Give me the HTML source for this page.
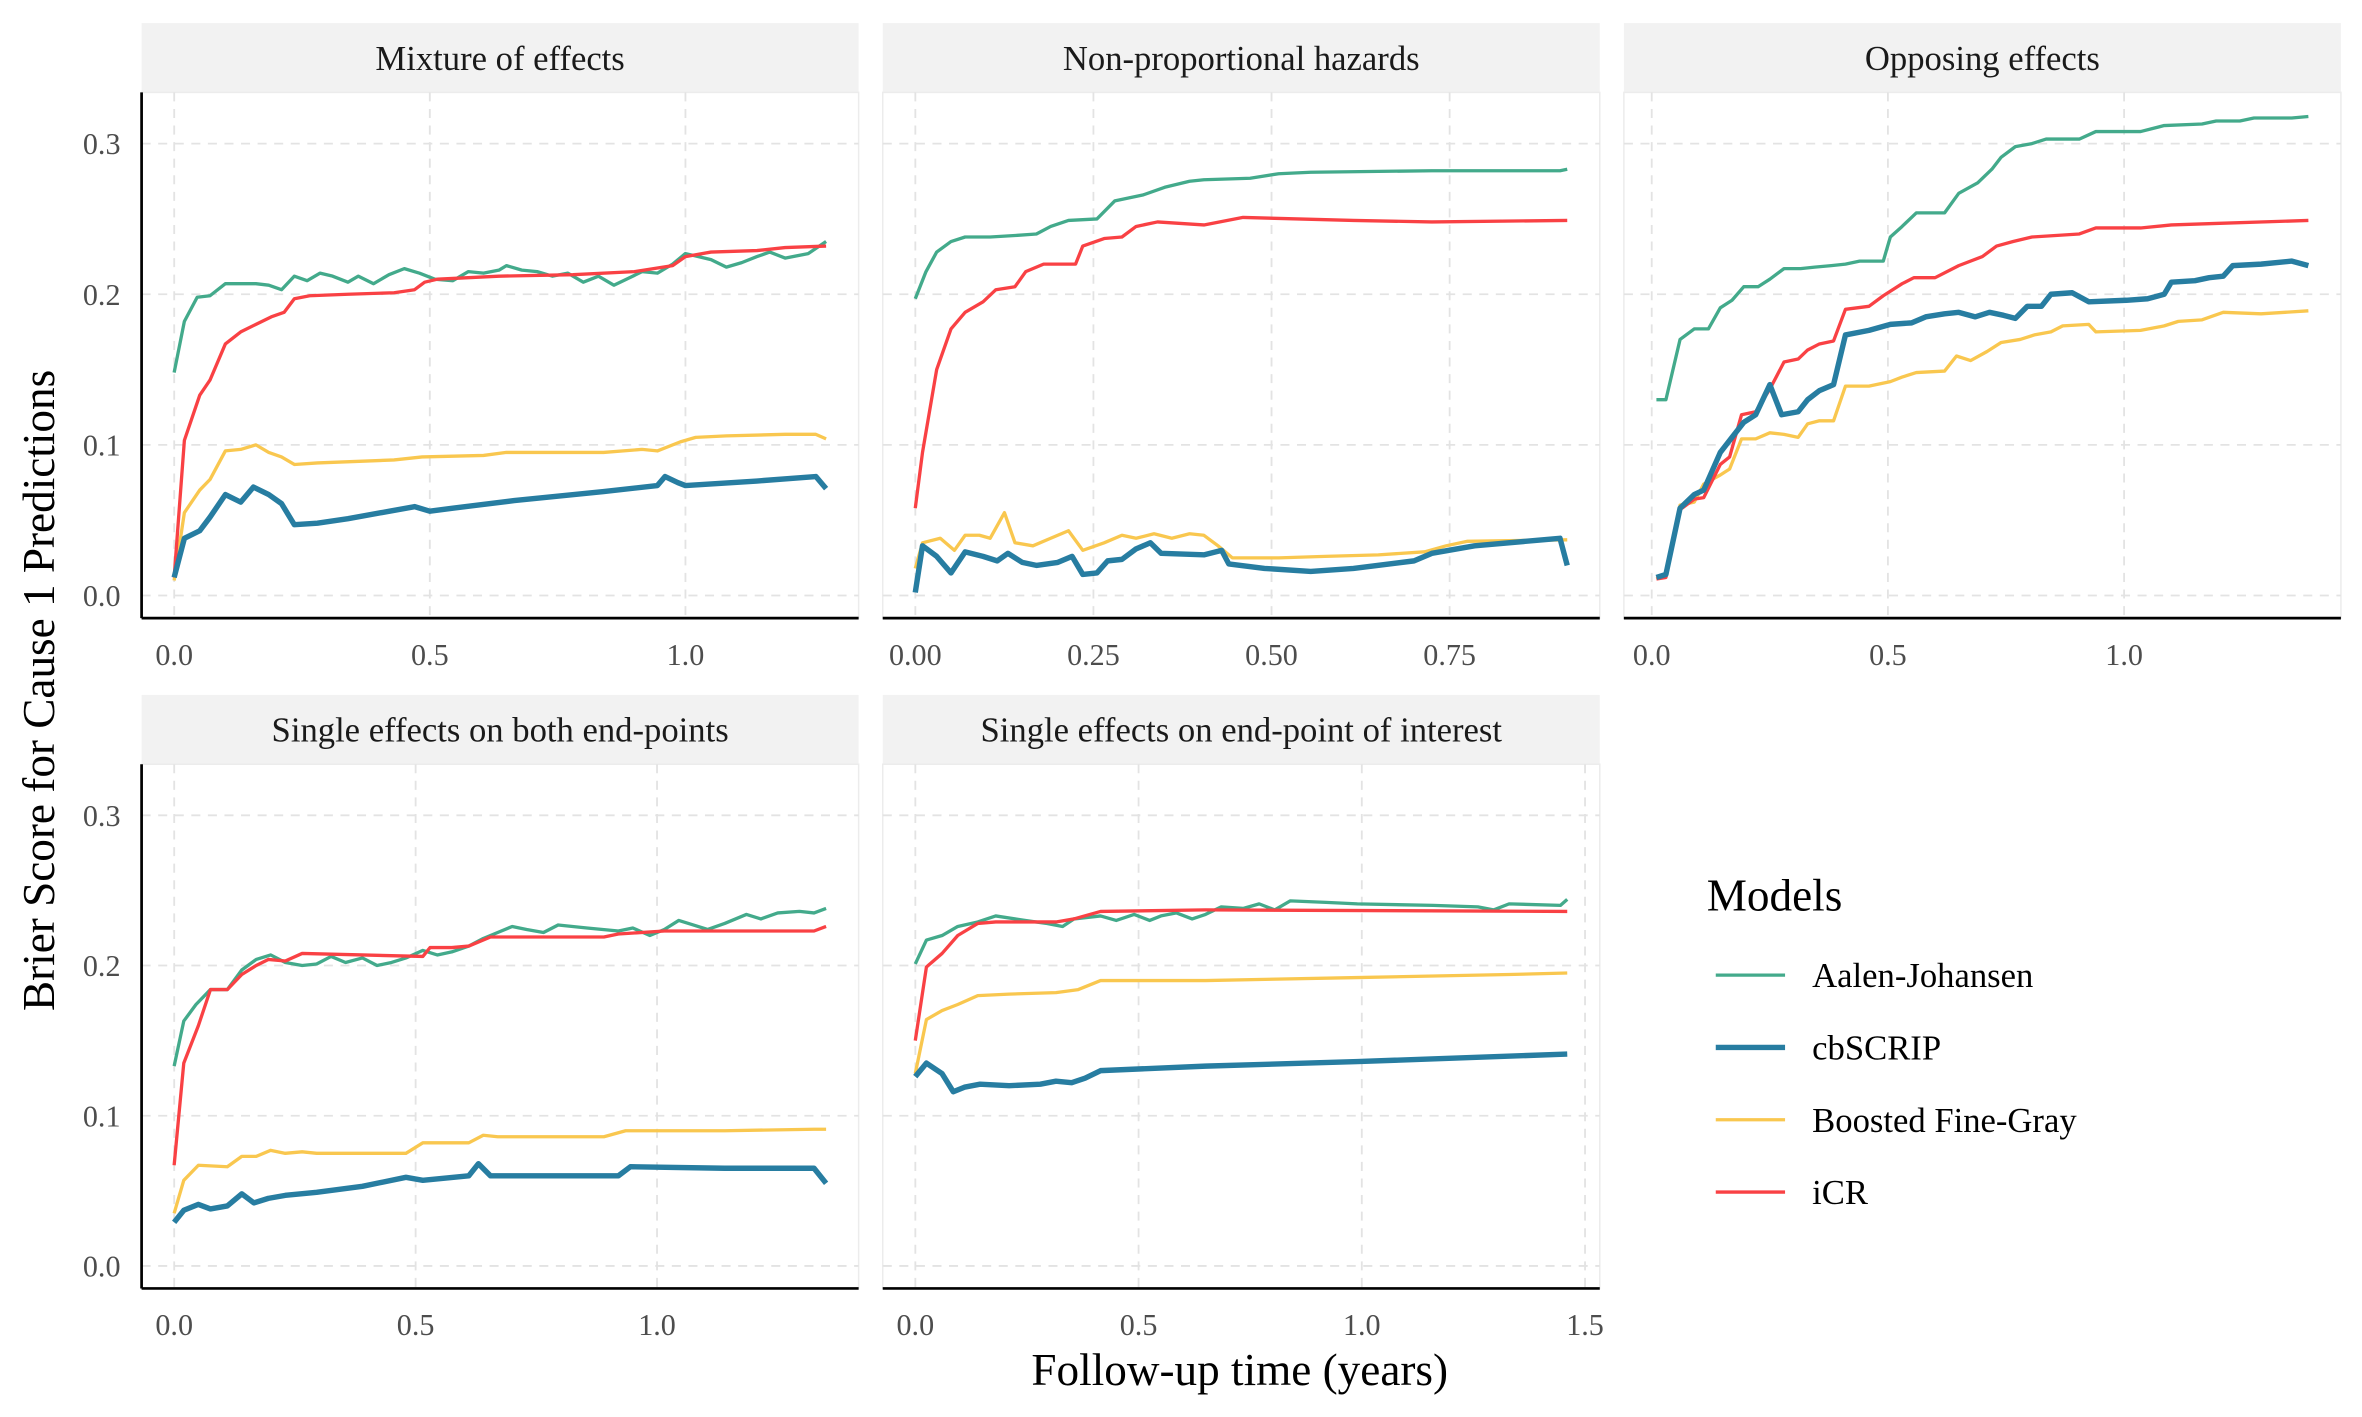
<!DOCTYPE html>
<html><head><meta charset="utf-8"><style>
html,body{margin:0;padding:0;background:#fff;}
svg{display:block;font-family:"Liberation Serif",serif;}
</style></head><body>
<svg id="chart" xmlns="http://www.w3.org/2000/svg" width="2362" height="1417" viewBox="0 0 1568 940">
<rect width="1568" height="940" fill="#fff"/>
<g id="panels"></g>
<text x="0" y="0" transform="translate(36,458) rotate(-90)" text-anchor="middle" font-size="30" fill="#000">Brier Score for Cause 1 Predictions</text>
<text x="823" y="919" text-anchor="middle" font-size="30" fill="#000">Follow-up time (years)</text>
<g>
<text x="1133" y="604" font-size="30">Models</text>
<g id="legend-items"></g>
</g>
</svg>
<script>
const NS="http://www.w3.org/2000/svg";
const models=["Aalen-Johansen","cbSCRIP","Boosted Fine-Gray","iCR"];
const colors=["#43aa8b","#277da1","#f9c74f","#f94144"];
const widths=[2.2,3.6,2.2,2.2];
const panelTitles=["Mixture of effects","Non-proportional hazards","Opposing effects","Single effects on both end-points","Single effects on end-point of interest"];
const xDomains=[[0,1.275],[0,0.915],[0.01,1.39],[0,1.35],[0,1.46]];
const xTicks=[[0,0.5,1.0],[0,0.25,0.5,0.75],[0,0.5,1.0],[0,0.5,1.0],[0,0.5,1.0,1.5]];
const xTickLabels=[["0.0","0.5","1.0"],["0.00","0.25","0.50","0.75"],["0.0","0.5","1.0"],["0.0","0.5","1.0"],["0.0","0.5","1.0","1.5"]];
const yTicks=[0,0.1,0.2,0.3];
const yTickLabels=["0.0","0.1","0.2","0.3"];
const yDomain=[-0.015,0.334];

// Panel 1: Mixture of effects
const p1AJt=[0,.02,.045,.07,.10,.13,.16,.185,.21,.235,.26,.285,.31,.34,.36,.39,.42,.45,.48,.51,.545,.575,.605,.635,.65,.68,.71,.74,.77,.80,.83,.86,.885,.915,.945,.975,1.00,1.05,1.08,1.11,1.14,1.165,1.195,1.24,1.275];
const p1AJv=[.148,.182,.198,.199,.207,.207,.207,.206,.203,.212,.209,.214,.212,.208,.212,.207,.213,.217,.214,.210,.209,.215,.214,.216,.219,.216,.215,.212,.214,.208,.212,.206,.210,.215,.214,.220,.227,.223,.218,.221,.225,.228,.224,.227,.235];
const p1CBt=[0,.02,.05,.07,.10,.13,.155,.185,.21,.235,.28,.34,.47,.50,.545,.665,.84,.945,.96,.985,1.00,1.14,1.255,1.275];
const p1CBv=[.012,.038,.043,.052,.067,.062,.072,.067,.061,.047,.048,.051,.059,.056,.058,.063,.069,.073,.079,.075,.073,.076,.079,.071];
const p1FGt=[0,.02,.05,.07,.10,.13,.16,.185,.21,.235,.28,.43,.485,.605,.65,.84,.915,.945,.99,1.02,1.08,1.195,1.255,1.275];
const p1FGv=[.010,.055,.070,.077,.096,.097,.100,.095,.092,.087,.088,.090,.092,.093,.095,.095,.097,.096,.102,.105,.106,.107,.107,.104];
const p1CRt=[0,.02,.05,.07,.10,.13,.16,.19,.215,.235,.265,.34,.43,.47,.49,.515,.635,.78,.90,.975,1.00,1.05,1.14,1.195,1.275];
const p1CRv=[.012,.103,.133,.143,.167,.175,.180,.185,.188,.197,.199,.200,.201,.203,.208,.210,.212,.213,.215,.219,.225,.228,.229,.231,.232];

// Panel 2: Non-proportional hazards
const p2AJt=[0,.015,.03,.05,.07,.105,.14,.17,.19,.215,.255,.28,.30,.32,.35,.385,.405,.47,.51,.555,.725,.905,.915];
const p2AJv=[.197,.215,.228,.235,.238,.238,.239,.240,.245,.249,.250,.262,.264,.266,.271,.275,.276,.277,.280,.281,.282,.282,.283];
const p2CBt=[0,.01,.03,.05,.07,.095,.115,.13,.15,.17,.20,.22,.235,.255,.27,.29,.31,.33,.345,.405,.43,.44,.49,.555,.615,.70,.725,.785,.905,.915];
const p2CBv=[.002,.033,.026,.015,.029,.026,.023,.028,.022,.020,.022,.026,.014,.015,.023,.024,.031,.035,.028,.027,.030,.021,.018,.016,.018,.023,.028,.033,.038,.020];
const p2FGt=[0,.01,.035,.055,.07,.09,.105,.125,.14,.165,.19,.215,.235,.265,.29,.31,.335,.36,.385,.405,.425,.445,.51,.575,.65,.715,.745,.775,.915];
const p2FGv=[.018,.035,.038,.030,.040,.040,.038,.055,.035,.033,.038,.043,.030,.035,.040,.038,.041,.038,.041,.040,.033,.025,.025,.026,.027,.029,.033,.036,.037];
const p2CRt=[0,.01,.03,.05,.07,.095,.113,.14,.155,.18,.225,.235,.265,.29,.31,.34,.405,.46,.615,.725,.915];
const p2CRv=[.058,.095,.150,.177,.188,.195,.203,.205,.215,.220,.220,.232,.237,.238,.245,.248,.246,.251,.249,.248,.249];

// Panel 3: Opposing effects
const p3AJt=[.01,.03,.06,.09,.12,.145,.17,.195,.225,.25,.28,.315,.345,.38,.41,.44,.49,.505,.53,.56,.62,.65,.69,.72,.74,.77,.805,.835,.905,.94,1.035,1.085,1.165,1.195,1.245,1.275,1.355,1.39];
const p3AJv=[.130,.130,.170,.177,.177,.191,.196,.205,.205,.210,.217,.217,.218,.219,.220,.222,.222,.238,.245,.254,.254,.267,.274,.283,.291,.298,.300,.303,.303,.308,.308,.312,.313,.315,.315,.317,.317,.318];
const p3CBt=[.01,.03,.06,.09,.11,.145,.17,.195,.22,.25,.275,.31,.33,.355,.385,.41,.46,.505,.55,.58,.62,.65,.685,.715,.745,.77,.795,.825,.845,.89,.925,1.005,1.05,1.085,1.10,1.15,1.18,1.21,1.23,1.29,1.355,1.39];
const p3CBv=[.012,.014,.058,.067,.070,.095,.105,.115,.120,.140,.120,.122,.130,.136,.140,.173,.176,.180,.181,.185,.187,.188,.185,.188,.186,.184,.192,.192,.200,.201,.195,.196,.197,.200,.208,.209,.211,.212,.219,.220,.222,.219];
const p3FGt=[.01,.03,.06,.09,.11,.145,.165,.19,.22,.25,.28,.31,.33,.355,.385,.41,.46,.505,.53,.56,.62,.645,.675,.71,.74,.78,.81,.845,.87,.925,.94,1.035,1.085,1.115,1.165,1.21,1.29,1.39];
const p3FGv=[.011,.014,.060,.062,.074,.080,.084,.104,.104,.108,.107,.105,.114,.116,.116,.139,.139,.142,.145,.148,.149,.159,.156,.162,.168,.170,.173,.175,.179,.180,.175,.176,.179,.182,.183,.188,.187,.189];
const p3CRt=[.01,.03,.06,.09,.11,.145,.165,.19,.22,.25,.28,.31,.33,.355,.385,.41,.46,.49,.53,.555,.60,.65,.70,.73,.765,.805,.905,.94,1.035,1.10,1.195,1.39];
const p3CRv=[.011,.012,.057,.064,.065,.087,.092,.120,.122,.137,.155,.157,.163,.167,.169,.190,.192,.199,.207,.211,.211,.219,.225,.232,.235,.238,.240,.244,.244,.246,.247,.249];

// Panel 4: Single effects on both end-points
const p4AJt=[0,.02,.045,.075,.11,.14,.17,.20,.23,.265,.295,.325,.355,.39,.42,.45,.48,.515,.545,.575,.61,.64,.67,.70,.73,.765,.795,.855,.92,.95,.985,1.015,1.045,1.075,1.105,1.14,1.185,1.215,1.25,1.295,1.325,1.35];
const p4AJv=[.133,.163,.174,.184,.184,.197,.204,.207,.202,.200,.201,.206,.202,.205,.200,.202,.205,.210,.207,.209,.213,.218,.222,.226,.224,.222,.227,.225,.223,.225,.220,.224,.230,.227,.224,.228,.234,.231,.235,.236,.235,.238];
const p4CBt=[0,.02,.05,.075,.11,.14,.165,.195,.23,.295,.39,.48,.515,.61,.63,.655,.92,.945,1.14,1.325,1.35];
const p4CBv=[.029,.037,.041,.038,.040,.048,.042,.045,.047,.049,.053,.059,.057,.060,.068,.060,.060,.066,.065,.065,.055];
const p4FGt=[0,.02,.05,.11,.14,.17,.20,.23,.265,.295,.39,.48,.515,.61,.64,.67,.89,.935,1.14,1.325,1.35];
const p4FGv=[.035,.057,.067,.066,.073,.073,.077,.075,.076,.075,.075,.075,.082,.082,.087,.086,.086,.090,.090,.091,.091];
const p4CRt=[0,.02,.05,.075,.11,.14,.17,.195,.23,.265,.515,.53,.575,.61,.655,.765,.89,.92,1.015,1.325,1.35];
const p4CRv=[.067,.135,.160,.184,.184,.194,.200,.204,.203,.208,.206,.212,.212,.213,.219,.219,.219,.221,.223,.223,.226];

// Panel 5: Single effects on end-point of interest
const p5AJt=[0,.025,.06,.095,.14,.18,.245,.295,.33,.355,.415,.45,.49,.525,.55,.585,.62,.65,.685,.735,.77,.805,.84,.92,.99,1.16,1.26,1.295,1.33,1.445,1.46];
const p5AJv=[.201,.217,.220,.226,.229,.233,.230,.228,.226,.231,.233,.230,.234,.230,.233,.235,.231,.234,.239,.238,.241,.237,.243,.242,.241,.240,.239,.237,.241,.240,.244];
const p5CBt=[0,.025,.06,.085,.11,.145,.21,.28,.315,.35,.38,.415,.65,.99,1.46];
const p5CBv=[.126,.135,.128,.116,.119,.121,.120,.121,.123,.122,.125,.130,.133,.136,.141];
const p5FGt=[0,.025,.06,.095,.14,.21,.315,.365,.415,.65,.99,1.33,1.46];
const p5FGv=[.128,.164,.170,.174,.180,.181,.182,.184,.190,.190,.192,.194,.195];
const p5CRt=[0,.025,.06,.095,.14,.18,.315,.355,.415,.65,1.46];
const p5CRv=[.150,.199,.208,.220,.228,.229,.229,.231,.236,.237,.236];

const seriesT=[[p1AJt,p1CBt,p1FGt,p1CRt],[p2AJt,p2CBt,p2FGt,p2CRt],[p3AJt,p3CBt,p3FGt,p3CRt],[p4AJt,p4CBt,p4FGt,p4CRt],[p5AJt,p5CBt,p5FGt,p5CRt]];
const seriesV=[[p1AJv,p1CBv,p1FGv,p1CRv],[p2AJv,p2CBv,p2FGv,p2CRv],[p3AJv,p3CBv,p3FGv,p3CRv],[p4AJv,p4CBv,p4FGv,p4CRv],[p5AJv,p5CBv,p5FGv,p5CRv]];

const boxes=[[94,61,476,349],[586,61,476,349],[1078,61,476,349],[94,507,476,348],[586,507,476,348]];
const stripH=46;
function mk(tag,attrs,parent){const e=document.createElementNS(NS,tag);for(const k in attrs)e.setAttribute(k,attrs[k]);parent.appendChild(e);return e;}
function slug(s){return s.toLowerCase().replace(/[^a-z0-9]+/g,'-').replace(/^-|-$/g,'');}
const root=document.getElementById('panels');
panelTitles.forEach((title,i)=>{
  const [L,T,W,H]=boxes[i];
  const [d0,d1]=xDomains[i];
  const span=d1-d0;
  const xs=t=>L+W*((t-(d0-0.05*span))/(1.1*span));
  const ys=v=>T+H*((yDomain[1]-v)/(yDomain[1]-yDomain[0]));
  const g=mk('g',{},root);
  
  
  const strip=mk('rect',{x:L,y:T-stripH,width:W,height:stripH,fill:'#f2f2f2'},g);
  
  
  const st=mk('text',{x:L+W/2,y:T-stripH/2+8,'text-anchor':'middle','font-size':23,fill:'#1a1a1a'},g);
  
  
  st.textContent=title;
  const border=mk('rect',{x:L,y:T,width:W,height:H,fill:'none',stroke:'#ececec','stroke-width':1},g);
  
  
  yTicks.forEach((v,j)=>{
    const gl=mk('line',{x1:L,x2:L+W,y1:ys(v),y2:ys(v),stroke:'#e3e3e3','stroke-width':1.2,'stroke-dasharray':'6,5'},g);
    
    
    if(i===0||i===3){
      const tl=mk('text',{x:L-14,y:ys(v)+7,'text-anchor':'end','font-size':20,fill:'#4d4d4d'},g);
      
      
      tl.textContent=yTickLabels[j];
    }
  });
  xTicks[i].forEach((t,j)=>{
    const gl=mk('line',{x1:xs(t),x2:xs(t),y1:T,y2:T+H,stroke:'#e3e3e3','stroke-width':1.2,'stroke-dasharray':'6,5'},g);
    
    
    const tl=mk('text',{x:xs(t),y:T+H+31,'text-anchor':'middle','font-size':20,fill:'#4d4d4d'},g);
    
    
    tl.textContent=xTickLabels[i][j];
  });
  const bx=mk('line',{x1:L,x2:L+W,y1:T+H,y2:T+H,stroke:'#000','stroke-width':1.8},g);
  
  
  if(i===0||i===3){
    const ly=mk('line',{x1:L,x2:L,y1:T,y2:T+H,stroke:'#000','stroke-width':1.8},g);
    
    
  }
  [0,2,3,1].forEach(m=>{
    const tt=seriesT[i][m], vv=seriesV[i][m];
    const d=tt.map((t,k)=>(k?'L':'M')+xs(t).toFixed(1)+','+ys(vv[k]).toFixed(1)).join(' ');
    const p=mk('path',{d:d,fill:'none',stroke:colors[m],'stroke-width':widths[m],'stroke-linejoin':'round'},g);
    
    
  });
});
const lg=document.getElementById('legend-items');
models.forEach((m,i)=>{
  const y=647+48*i;
  const g=mk('g',{},lg);
  
  
  mk('line',{x1:1139,x2:1185,y1:y,y2:y,stroke:colors[i],'stroke-width':widths[i]},g);
  const t=mk('text',{x:1203,y:y+8,'font-size':23,fill:'#000'},g);
  t.textContent=m;
});
</script>
</body></html>
